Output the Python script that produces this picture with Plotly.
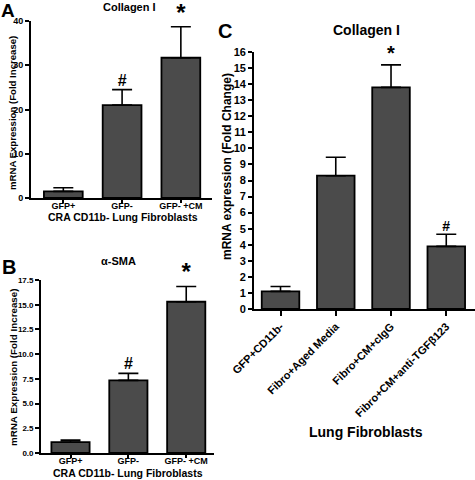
import plotly.graph_objects as go

# ---- data ----
a_cats = ["GFP+", "GFP-", "GFP- +CM"]
a_vals = [1.5, 21.0, 31.7]
a_errs = [0.8, 3.5, 7.0]
a_marks = ["", "#", "*"]

b_cats = ["GFP+", "GFP-", "GFP- +CM"]
b_vals = [1.1, 7.35, 15.3]
b_errs = [0.2, 0.7, 1.55]
b_marks = ["", "#", "*"]

c_cats = ["GFP+CD11b-", "Fibro+Aged Media", "Fibro+CM+cIgG", "Fibro+CM+anti-TGFβ123"]
c_vals = [1.1, 8.3, 13.8, 3.9]
c_errs = [0.3, 1.15, 1.4, 0.75]
c_marks = ["", "", "*", "#"]

a_ticks = [0, 10, 20, 30, 40]
b_ticks = [0, 2.5, 5.0, 7.5, 10.0, 12.5, 15.0, 17.5]
c_ticks = list(range(0, 17))

FONT = "Liberation Sans, Arial, sans-serif"
BAR = "#4b4b4b"

fig = go.Figure()

def add_panel(cats, vals, errs, marks, xa, ya, width, ew, star_size, hash_size):
    idx = list(range(len(cats)))
    fig.add_trace(go.Bar(
        x=idx, y=vals, width=width, xaxis=xa, yaxis=ya,
        marker=dict(color=BAR, line=dict(color="black", width=1.8)),
        error_y=dict(type="data", symmetric=False, array=errs,
                     arrayminus=[0] * len(errs), color="black",
                     thickness=1.6, width=ew),
        hoverinfo="skip"))
    tops = [v + e for v, e in zip(vals, errs)]
    sizes = [star_size if m == "*" else hash_size for m in marks]
    fig.add_trace(go.Scatter(
        x=idx, y=tops, mode="text", text=marks, textposition="top center",
        textfont=dict(family=FONT, size=sizes, color="black", weight="bold"),
        xaxis=xa, yaxis=ya, hoverinfo="skip", cliponaxis=False))

add_panel(a_cats, a_vals, a_errs, a_marks, "x", "y", 0.66, 10, 24, 16)
add_panel(b_cats, b_vals, b_errs, b_marks, "x2", "y2", 0.66, 10, 24, 16)
add_panel(c_cats, c_vals, c_errs, c_marks, "x3", "y3", 0.68, 10, 20, 14)

W, H = 475, 480
def px(x):
    return x / W
def py(y):
    return 1 - y / H

axis_common = dict(showline=True, linecolor="black", linewidth=1.8,
                   ticks="outside", tickcolor="black", tickwidth=1.6,
                   showgrid=False, zeroline=False, fixedrange=True,
                   automargin=False)

fig.update_layout(
    width=W, height=H, margin=dict(l=0, r=0, t=0, b=0, autoexpand=False),
    paper_bgcolor="white", plot_bgcolor="white", showlegend=False,
    font=dict(family=FONT, color="black"),
    xaxis=dict(axis_common, domain=[px(31), px(212)], range=[-0.55, 2.53],
               tickvals=[0, 1, 2], ticktext=a_cats, ticklen=3,
               ticklabelstandoff=-5,
               tickfont=dict(size=9, weight="bold"), anchor="y"),
    yaxis=dict(axis_common, domain=[py(198), py(21)], range=[0, 40],
               tickvals=a_ticks, ticklen=4,
               tickfont=dict(size=9, weight="bold"), anchor="x"),
    xaxis2=dict(axis_common, domain=[px(41), px(214)], range=[-0.51, 2.48],
                tickvals=[0, 1, 2], ticktext=b_cats, ticklen=3,
                ticklabelstandoff=-5,
                tickfont=dict(size=9, weight="bold"), anchor="y2"),
    yaxis2=dict(axis_common, domain=[py(453), py(280)], range=[0, 17.5],
                tickvals=b_ticks, tickformat=".1f", ticklen=4,
                tickfont=dict(size=8, weight="bold"), anchor="x2"),
    xaxis3=dict(axis_common, domain=[px(254), 1.0], range=[-0.48, 3.52],
                tickvals=[0, 1, 2, 3], ticktext=c_cats, tickangle=-45, ticklen=5,
                tickfont=dict(size=11, weight="bold"), anchor="y3"),
    yaxis3=dict(axis_common, domain=[py(309), py(52)], range=[0, 16],
                tickvals=c_ticks, ticklen=4,
                tickfont=dict(size=11, weight="bold"), anchor="x3"),
)

def ann(text, x, y, size, angle=0, bold=True):
    fig.add_annotation(text=text, x=px(x), y=py(y), xref="paper", yref="paper",
                       showarrow=False, textangle=angle, xanchor="center",
                       yanchor="middle",
                       font=dict(family=FONT, size=size, color="black",
                                 weight="bold" if bold else "normal"))

# panel letters
ann("A", 8, 10, 19)
ann("B", 9, 267, 20)
ann("C", 225, 31, 20)
# titles
ann("Collagen I", 129, 7, 11)
ann("α-SMA", 118, 261, 11)
ann("Collagen I", 366, 30, 14)
# y titles
ann("mRNA Expression (Fold Increase)", 13, 113, 9.6, angle=-90)
ann("mRNA Expression (Fold Increase)", 13, 367, 9.8, angle=-90)
ann("mRNA expression (Fold Change)", 227, 167, 12, angle=-90)
# x titles
ann("CRA CD11b- Lung Fibroblasts", 123, 217, 10.5)
ann("CRA CD11b- Lung Fibroblasts", 128, 473, 10.5)
ann("Lung Fibroblasts", 366, 432, 14)

fig.write_html("out.html", config={"displayModeBar": False},
               post_script="document.body.style.margin='0';document.body.style.padding='0';")
